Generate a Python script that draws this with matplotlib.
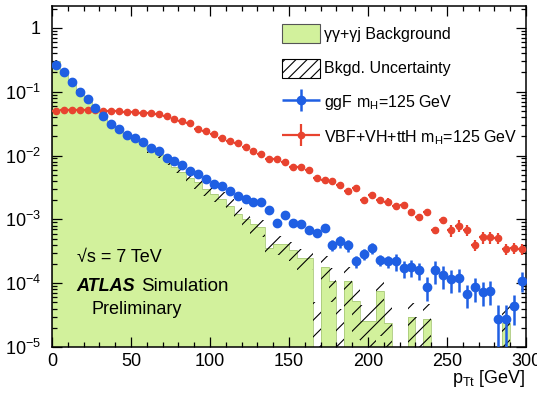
"""
Diphoton pT_Tt distribution
===========================

Background (gamma-gamma + gamma-jet) as a filled histogram with its
uncertainty band, plus the ggF and VBF+VH+ttH signal shapes.
"""

import numpy as np
import matplotlib
matplotlib.use("Agg")
import matplotlib.pyplot as plt
from matplotlib.patches import Patch
from matplotlib.legend_handler import HandlerErrorbar
from matplotlib.ticker import MultipleLocator, LogLocator, FuncFormatter, NullFormatter

# ---------------------------------------------------------------- data
bin_edges = np.arange(0, 305, 5)          # 60 bins of 5 GeV
bin_centers = bin_edges[:-1] + 2.5

# gamma-gamma + gamma-jet background (0 = empty bin)
bkg = [0.30, 0.21, 0.145, 0.10, 0.074, 0.055, 0.041, 0.031, 0.025, 0.020,
       0.0175, 0.015, 0.0125, 0.0105, 0.0085, 0.0065, 0.0056, 0.0045, 0.0038, 0.0030,
       0.0025, 0.0021, 0.0016, 0.0012, 0.0010, 0.00085, 0.00075, 0.00036, 0.00041, 0.00041,
       0.00033, 0.00025, 0.00025, 0.0, 0.00018, 0.00011, 0.0, 0.00011, 5.3e-5, 2.6e-5,
       2.6e-5, 7.5e-5, 2.4e-5, 0.0, 0.0, 2.9e-5, 0.0, 2.7e-5, 0.0, 0.0,
       0.0, 0.0, 0.0, 0.0, 0.0, 0.0, 0.0, 2.4e-5, 0.0, 0.0]

# absolute background uncertainty
bkg_err = [0.018, 0.012, 0.008, 0.006, 0.0045, 0.0035, 0.0027, 0.0021, 0.0018, 0.0015,
           0.0014, 0.0013, 0.0015, 0.0014, 0.0013, 0.0011, 0.0010, 0.0009, 0.0008, 0.0007,
           0.0006, 0.00055, 0.00045, 0.00035, 0.0003, 0.00025, 0.00022, 0.00012, 0.00013, 0.00013,
           0.00011, 9e-5, 9e-5, 5e-5, 9e-5, 6e-5, 4e-5, 7e-5, 4e-5, 2e-5,
           2e-5, 6e-5, 2e-5, 0.0, 0.0, 2e-5, 3e-5, 2e-5, 0.0, 0.0,
           0.0, 0.0, 0.0, 0.0, 0.0, 0.0, 0.0, 2.5e-5, 0.0, 0.0]

# ggF mH=125 GeV
ggf = [0.26, 0.20, 0.14, 0.10, 0.076, 0.056, 0.042, 0.031, 0.026, 0.021,
       0.0185, 0.016, 0.013, 0.0118, 0.0091, 0.0082, 0.0071, 0.0057, 0.0052, 0.0043,
       0.0036, 0.0033, 0.0028, 0.0023, 0.0021, 0.0019, 0.0019, 0.0014, 0.00089, 0.00115,
       0.00089, 0.00085, 0.00069, 0.00062, 0.00074, 0.00040, 0.00045, 0.00039, 0.00022, 0.00029,
       0.00036, 0.00023, 0.00022, 0.00022, 0.00017, 0.00018, 0.00016, 8.8e-5, 0.00016, 0.000135,
       0.000115, 0.00012, 6.8e-5, 8.6e-5, 7.4e-5, 7.6e-5, 2.7e-5, 2.7e-5, 4.4e-5, 0.00011]
ggf_relerr = [0.02] * 20 + [0.06] * 6 + [0.12] * 9 + [0.2] * 8 + [0.3] * 4 + [0.4] * 9 + [0.7, 0.7, 0.5, 0.35]

# VBF+VH+ttH mH=125 GeV
vbf = [0.050, 0.051, 0.052, 0.052, 0.052, 0.051, 0.050, 0.050, 0.049, 0.048,
       0.048, 0.047, 0.047, 0.045, 0.041, 0.038, 0.035, 0.032, 0.026, 0.024,
       0.022, 0.019, 0.017, 0.0155, 0.0136, 0.0118, 0.0105, 0.0089, 0.0089, 0.0078,
       0.0065, 0.0065, 0.0059, 0.0045, 0.0042, 0.0040, 0.0034, 0.0028, 0.0031, 0.0020,
       0.0024, 0.0020, 0.0019, 0.0016, 0.00165, 0.0013, 0.00108, 0.0013, 0.00067, 0.00096,
       0.00067, 0.00080, 0.00069, 0.00040, 0.00052, 0.00052, 0.00051, 0.00034, 0.00036, 0.00034]
vbf_relerr = [0.03] * 30 + [0.08] * 10 + [0.12] * 10 + [0.2] * 10

legend_labels = ["γγ+γj Background", "Bkgd. Uncertainty",
                 "ggF m$_{\\rm H}$=125 GeV", "VBF+VH+ttH m$_{\\rm H}$=125 GeV"]

# ---------------------------------------------------------------- style
plt.rcParams["font.family"] = ["Liberation Sans", "DejaVu Sans"]
plt.rcParams["mathtext.fontset"] = "custom"
plt.rcParams["mathtext.rm"] = "Liberation Sans"
plt.rcParams["mathtext.it"] = "Liberation Sans:italic"
plt.rcParams["hatch.linewidth"] = 0.8

green = "#d2f19c"
blue = "#1f5fe3"
red = "#e8432f"
floor = 1e-9   # stand-in for empty bins on the log axis


def decade_label(v, pos):
    # ROOT style: "1" for 10^0, 10^n otherwise
    exp = int(round(np.log10(v)))
    if exp == 0:
        return "1"
    return r"$10^{%d}$" % exp


fig = plt.figure(figsize=(5.37, 3.95), dpi=100)
ax = fig.add_axes([52 / 537, 48 / 395, 474 / 537, 341 / 395])

# background histogram
bkg = np.array(bkg)
bkg_err = np.array(bkg_err)
ax.stairs(np.where(bkg > 0, bkg, floor), bin_edges, baseline=floor,
          fill=True, facecolor=green, edgecolor="none", zorder=1)
ax.stairs(np.where(bkg > 0, bkg, floor), bin_edges, baseline=floor,
          color="#a9c97a", linewidth=0.6, zorder=1.5)

# uncertainty band (hatched)
band_lo = np.clip(bkg - bkg_err, floor, None)
band_hi = np.clip(bkg + bkg_err, floor, None)
ax.stairs(band_hi, bin_edges, baseline=band_lo, fill=True, facecolor="none",
          edgecolor="k", linewidth=0, hatch="//", zorder=2)

# signals
ggf = np.array(ggf)
vbf = np.array(vbf)
ggf_eb = ax.errorbar(bin_centers, ggf, xerr=2.5, yerr=ggf * np.array(ggf_relerr),
                     fmt="o", color=blue, ms=6, elinewidth=1.8, capsize=0, zorder=4)
vbf_eb = ax.errorbar(bin_centers, vbf, xerr=2.5, yerr=vbf * np.array(vbf_relerr),
                     fmt="o", color=red, ms=4.5, elinewidth=1.6, capsize=0, zorder=3)

# axes
ax.set_yscale("log")
ax.set_xlim(0, 300)
ax.set_ylim(1e-5, 2.2)
ax.xaxis.set_major_locator(MultipleLocator(50))
ax.xaxis.set_minor_locator(MultipleLocator(10))
ax.yaxis.set_major_locator(LogLocator(base=10, numticks=10))
ax.yaxis.set_minor_locator(LogLocator(base=10, subs=np.arange(2, 10), numticks=10))
ax.yaxis.set_major_formatter(FuncFormatter(decade_label))
ax.yaxis.set_minor_formatter(NullFormatter())
ax.tick_params(which="both", direction="in", top=True, right=True, width=0.9,
               labelsize=13)
ax.tick_params(which="major", length=7.2)
ax.tick_params(which="minor", length=3.6)
ax.tick_params(axis="y", pad=8)
ax.tick_params(axis="x", pad=4)
for spine in ax.spines.values():
    spine.set_linewidth(1.1)

ax.set_xlabel(r"p$_{\rm Tt}$ [GeV]", fontsize=13, loc="right")
ax.xaxis.set_label_coords(1.0, -0.062)

# labels
ax.text(0.053, 0.261, "√s = 7 TeV", transform=ax.transAxes, fontsize=13, va="center")
ax.text(0.051, 0.177, "ATLAS", transform=ax.transAxes, fontsize=13,
        fontweight="bold", fontstyle="italic", va="center")
ax.text(0.187, 0.177, "Simulation", transform=ax.transAxes, fontsize=13.5, va="center")
ax.text(0.084, 0.109, "Preliminary", transform=ax.transAxes, fontsize=13, va="center")

# legend
handles = [Patch(facecolor=green, edgecolor="#555555", linewidth=0.8),
           Patch(facecolor="white", edgecolor="k", linewidth=0.8, hatch="///"),
           ggf_eb, vbf_eb]
ax.legend(handles, legend_labels, loc="upper left", bbox_to_anchor=(0.485, 0.946),
          frameon=False, fontsize=11.5, borderpad=0, borderaxespad=0,
          handlelength=2.4, handleheight=1.45, labelspacing=0.95, handletextpad=0.25,
          handler_map={ggf_eb: HandlerErrorbar(xerr_size=1.2, yerr_size=0.7),
                       vbf_eb: HandlerErrorbar(xerr_size=1.2, yerr_size=0.7)})

fig.savefig("out.png", dpi=100)
